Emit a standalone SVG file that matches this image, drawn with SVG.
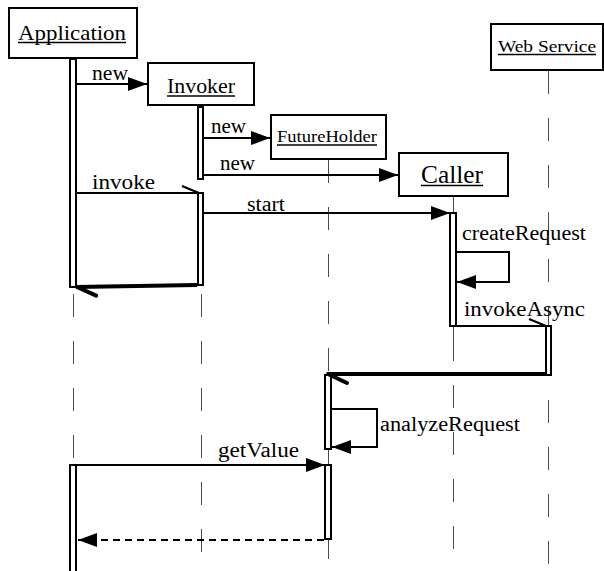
<svg xmlns="http://www.w3.org/2000/svg" width="604" height="571" viewBox="0 0 604 571">
<style>
text{font-family:'Liberation Serif','Times New Roman',serif;fill:#000}
.box{fill:#fff;stroke:#000;stroke-width:2}
.ul{stroke:#000;stroke-width:1.6}
.life{stroke:#4a4a4a;stroke-width:1;stroke-dasharray:23 24;fill:none}
.bar{fill:#fff;stroke:#000;stroke-width:2}
.msg{stroke:#000;stroke-width:2;fill:none}
.ret{stroke:#000;stroke-width:4;fill:none}
.lbl{font-size:20px}
</style>
<defs>
<marker id="fill" markerUnits="userSpaceOnUse" markerWidth="20" markerHeight="16" refX="19" refY="7" orient="auto" viewBox="0 0 20 16">
<path d="M0,0 L19,7 L0,14 z" fill="#000"/>
</marker>
<marker id="half" markerUnits="userSpaceOnUse" markerWidth="22" markerHeight="12" refX="20" refY="9" orient="auto" viewBox="0 0 22 12">
<path d="M3,2 L20,9" stroke="#000" stroke-width="2" fill="none"/>
</marker>
<marker id="halfbold" markerUnits="userSpaceOnUse" markerWidth="26" markerHeight="16" refX="23" refY="12" orient="auto" viewBox="0 0 26 16">
<path d="M3,3 L22,12" stroke="#000" stroke-width="4" stroke-linecap="round" fill="none"/>
</marker>
</defs>

<g id="lifelines">
<line class="life" x1="73.5" y1="59" x2="73.5" y2="571"/>
<line class="life" x1="201.5" y1="106" x2="201.5" y2="560"/>
<line class="life" x1="328.5" y1="160" x2="328.5" y2="560"/>
<line class="life" x1="453.5" y1="197" x2="453.5" y2="560"/>
<line x1="453.5" y1="326" x2="453.5" y2="338" stroke="#4a4a4a" stroke-width="1"/>
<line class="life" x1="548.5" y1="71" x2="548.5" y2="571"/>
</g>

<g id="application">
<rect class="box" x="9" y="8" width="128" height="50"/>
<text x="18" y="40" font-size="22" textLength="108" lengthAdjust="spacingAndGlyphs">Application</text>
<line class="ul" x1="18" y1="42.5" x2="126" y2="42.5"/>
<rect class="bar" x="70" y="59" width="6" height="228"/>
<rect class="bar" x="70" y="465" width="6" height="110"/>
</g>

<g id="invoker">
<rect class="box" x="148" y="63" width="106" height="42"/>
<text x="167" y="93" font-size="22" textLength="68" lengthAdjust="spacingAndGlyphs">Invoker</text>
<line class="ul" x1="167" y1="96" x2="235" y2="96"/>
<rect class="bar" x="198" y="107" width="5" height="72"/>
<rect class="bar" x="198" y="193" width="5" height="92"/>
</g>

<g id="futureholder">
<rect class="box" x="271" y="115" width="115" height="44"/>
<text x="277" y="142" font-size="16" textLength="100" lengthAdjust="spacingAndGlyphs">FutureHolder</text>
<line class="ul" x1="277" y1="145" x2="377" y2="145"/>
<rect class="bar" x="325" y="375" width="6" height="74"/>
<rect class="bar" x="325" y="465" width="6" height="74"/>
</g>

<g id="caller">
<rect class="box" x="399" y="153" width="109" height="43"/>
<text x="421" y="183" font-size="26" textLength="62" lengthAdjust="spacingAndGlyphs">Caller</text>
<line class="ul" x1="421" y1="185.5" x2="483" y2="185.5"/>
<rect class="bar" x="450" y="213" width="6" height="113"/>
</g>

<g id="webservice">
<rect class="box" x="491" y="24" width="112" height="46"/>
<text x="498" y="52" font-size="16" textLength="98" lengthAdjust="spacingAndGlyphs">Web Service</text>
<line class="ul" x1="498" y1="54.5" x2="596" y2="54.5"/>
<rect class="bar" x="546" y="326" width="5" height="49"/>
</g>

<g id="connectors">
<line class="msg" x1="77" y1="84" x2="147" y2="84" marker-end="url(#fill)"/>
<text class="lbl" x="92" y="80" textLength="36" lengthAdjust="spacingAndGlyphs">new</text>

<line class="msg" x1="204" y1="138" x2="270" y2="138" marker-end="url(#fill)"/>
<text class="lbl" x="211" y="133" textLength="35" lengthAdjust="spacingAndGlyphs">new</text>

<line class="msg" x1="204" y1="175" x2="398" y2="175" marker-end="url(#fill)"/>
<text class="lbl" x="220" y="170" textLength="35" lengthAdjust="spacingAndGlyphs">new</text>

<line class="msg" x1="77" y1="193" x2="199" y2="193" marker-end="url(#half)"/>
<text class="lbl" x="92" y="189" textLength="63" lengthAdjust="spacingAndGlyphs">invoke</text>

<line class="msg" x1="204" y1="213" x2="450" y2="213" marker-end="url(#fill)"/>
<text class="lbl" x="247" y="211" textLength="38" lengthAdjust="spacingAndGlyphs">start</text>

<polyline class="msg" points="457,252 509,252 509,282 457,282" marker-end="url(#fill)"/>
<text class="lbl" x="462" y="240" textLength="124" lengthAdjust="spacingAndGlyphs">createRequest</text>

<line class="msg" x1="457" y1="326" x2="546" y2="326" marker-end="url(#half)"/>
<text class="lbl" x="464" y="316" textLength="121" lengthAdjust="spacingAndGlyphs">invokeAsync</text>

<line class="ret" x1="197" y1="285" x2="76" y2="287" marker-end="url(#halfbold)"/>

<line class="ret" x1="546" y1="374" x2="327" y2="374" marker-end="url(#halfbold)"/>

<polyline class="msg" points="332,409 377,409 377,447 332,447" marker-end="url(#fill)"/>
<text class="lbl" x="380" y="431" textLength="140" lengthAdjust="spacingAndGlyphs">analyzeRequest</text>

<line class="msg" x1="77" y1="465" x2="325" y2="465" marker-end="url(#fill)"/>
<text class="lbl" x="218" y="457" textLength="81" lengthAdjust="spacingAndGlyphs">getValue</text>

<line class="msg" stroke-dasharray="7 5" x1="324" y1="540" x2="78" y2="540" marker-end="url(#fill)"/>
</g>
</svg>
